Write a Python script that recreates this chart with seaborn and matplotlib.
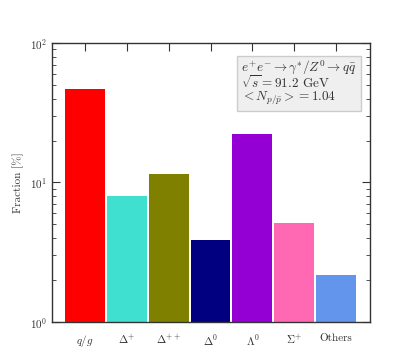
import numpy as np
import pandas as pd
import seaborn as sns
import matplotlib.pyplot as plt

categories = [r'$q/g$', r'$\Delta^{+}$', r'$\Delta^{++}$', r'$\Delta^{0}$',
              r'$\Lambda^{0}$', r'$\Sigma^{+}$', 'Others']
fractions = [46.5, 8.0, 11.5, 3.9, 22.2, 5.1, 2.18]
colors = ['red', 'turquoise', 'olive', 'navy', 'darkviolet', 'hotpink', 'cornflowerblue']

sns.set_style("ticks")
plt.rcParams['font.family'] = ['cmr10', 'DejaVu Serif']
plt.rcParams['mathtext.fontset'] = 'cm'
plt.rcParams['axes.formatter.use_mathtext'] = True

df = pd.DataFrame({'cat': categories, 'frac': fractions})

fig = plt.figure(figsize=(4.11, 3.63), dpi=100)
ax = fig.add_axes([0.1265, 0.113, 0.7735, 0.7685])

sns.barplot(data=df, x='cat', y='frac', hue='cat', palette=colors, legend=False,
            width=0.95, saturation=1, ax=ax, edgecolor='none')
ax.set_yscale('log')
ax.set_ylim(1, 100)
ax.set_xlim(-0.79, 6.81)

ax.set_xlabel('')
ax.set_ylabel('Fraction [%]', fontsize=8, color='#333333')
ax.tick_params(axis='both', which='both', direction='in', top=True, right=True,
               labelsize=8, colors='#333333')
ax.tick_params(axis='both', which='major', length=6)
ax.tick_params(axis='both', which='minor', length=3)
ax.tick_params(axis='x', pad=8)
for s in ax.spines.values():
    s.set_color('#333333')
    s.set_linewidth(1.0)

ax.text(0.595, 0.945,
        r'$e^{+}e^{-} \rightarrow \gamma^{*}/Z^{0} \rightarrow q\bar{q}$' + '\n'
        + r'$\sqrt{s} = 91.2$ GeV' + '\n'
        + r'$< N_{p/\bar{p}} >= 1.04$',
        transform=ax.transAxes, ha='left', va='top', fontsize=9.5,
        linespacing=0.9, color='#333333', multialignment='left',
        bbox=dict(boxstyle='square,pad=0.3', facecolor='#efefef', edgecolor='#cccccc'))

fig.savefig('out.png', dpi=100)
